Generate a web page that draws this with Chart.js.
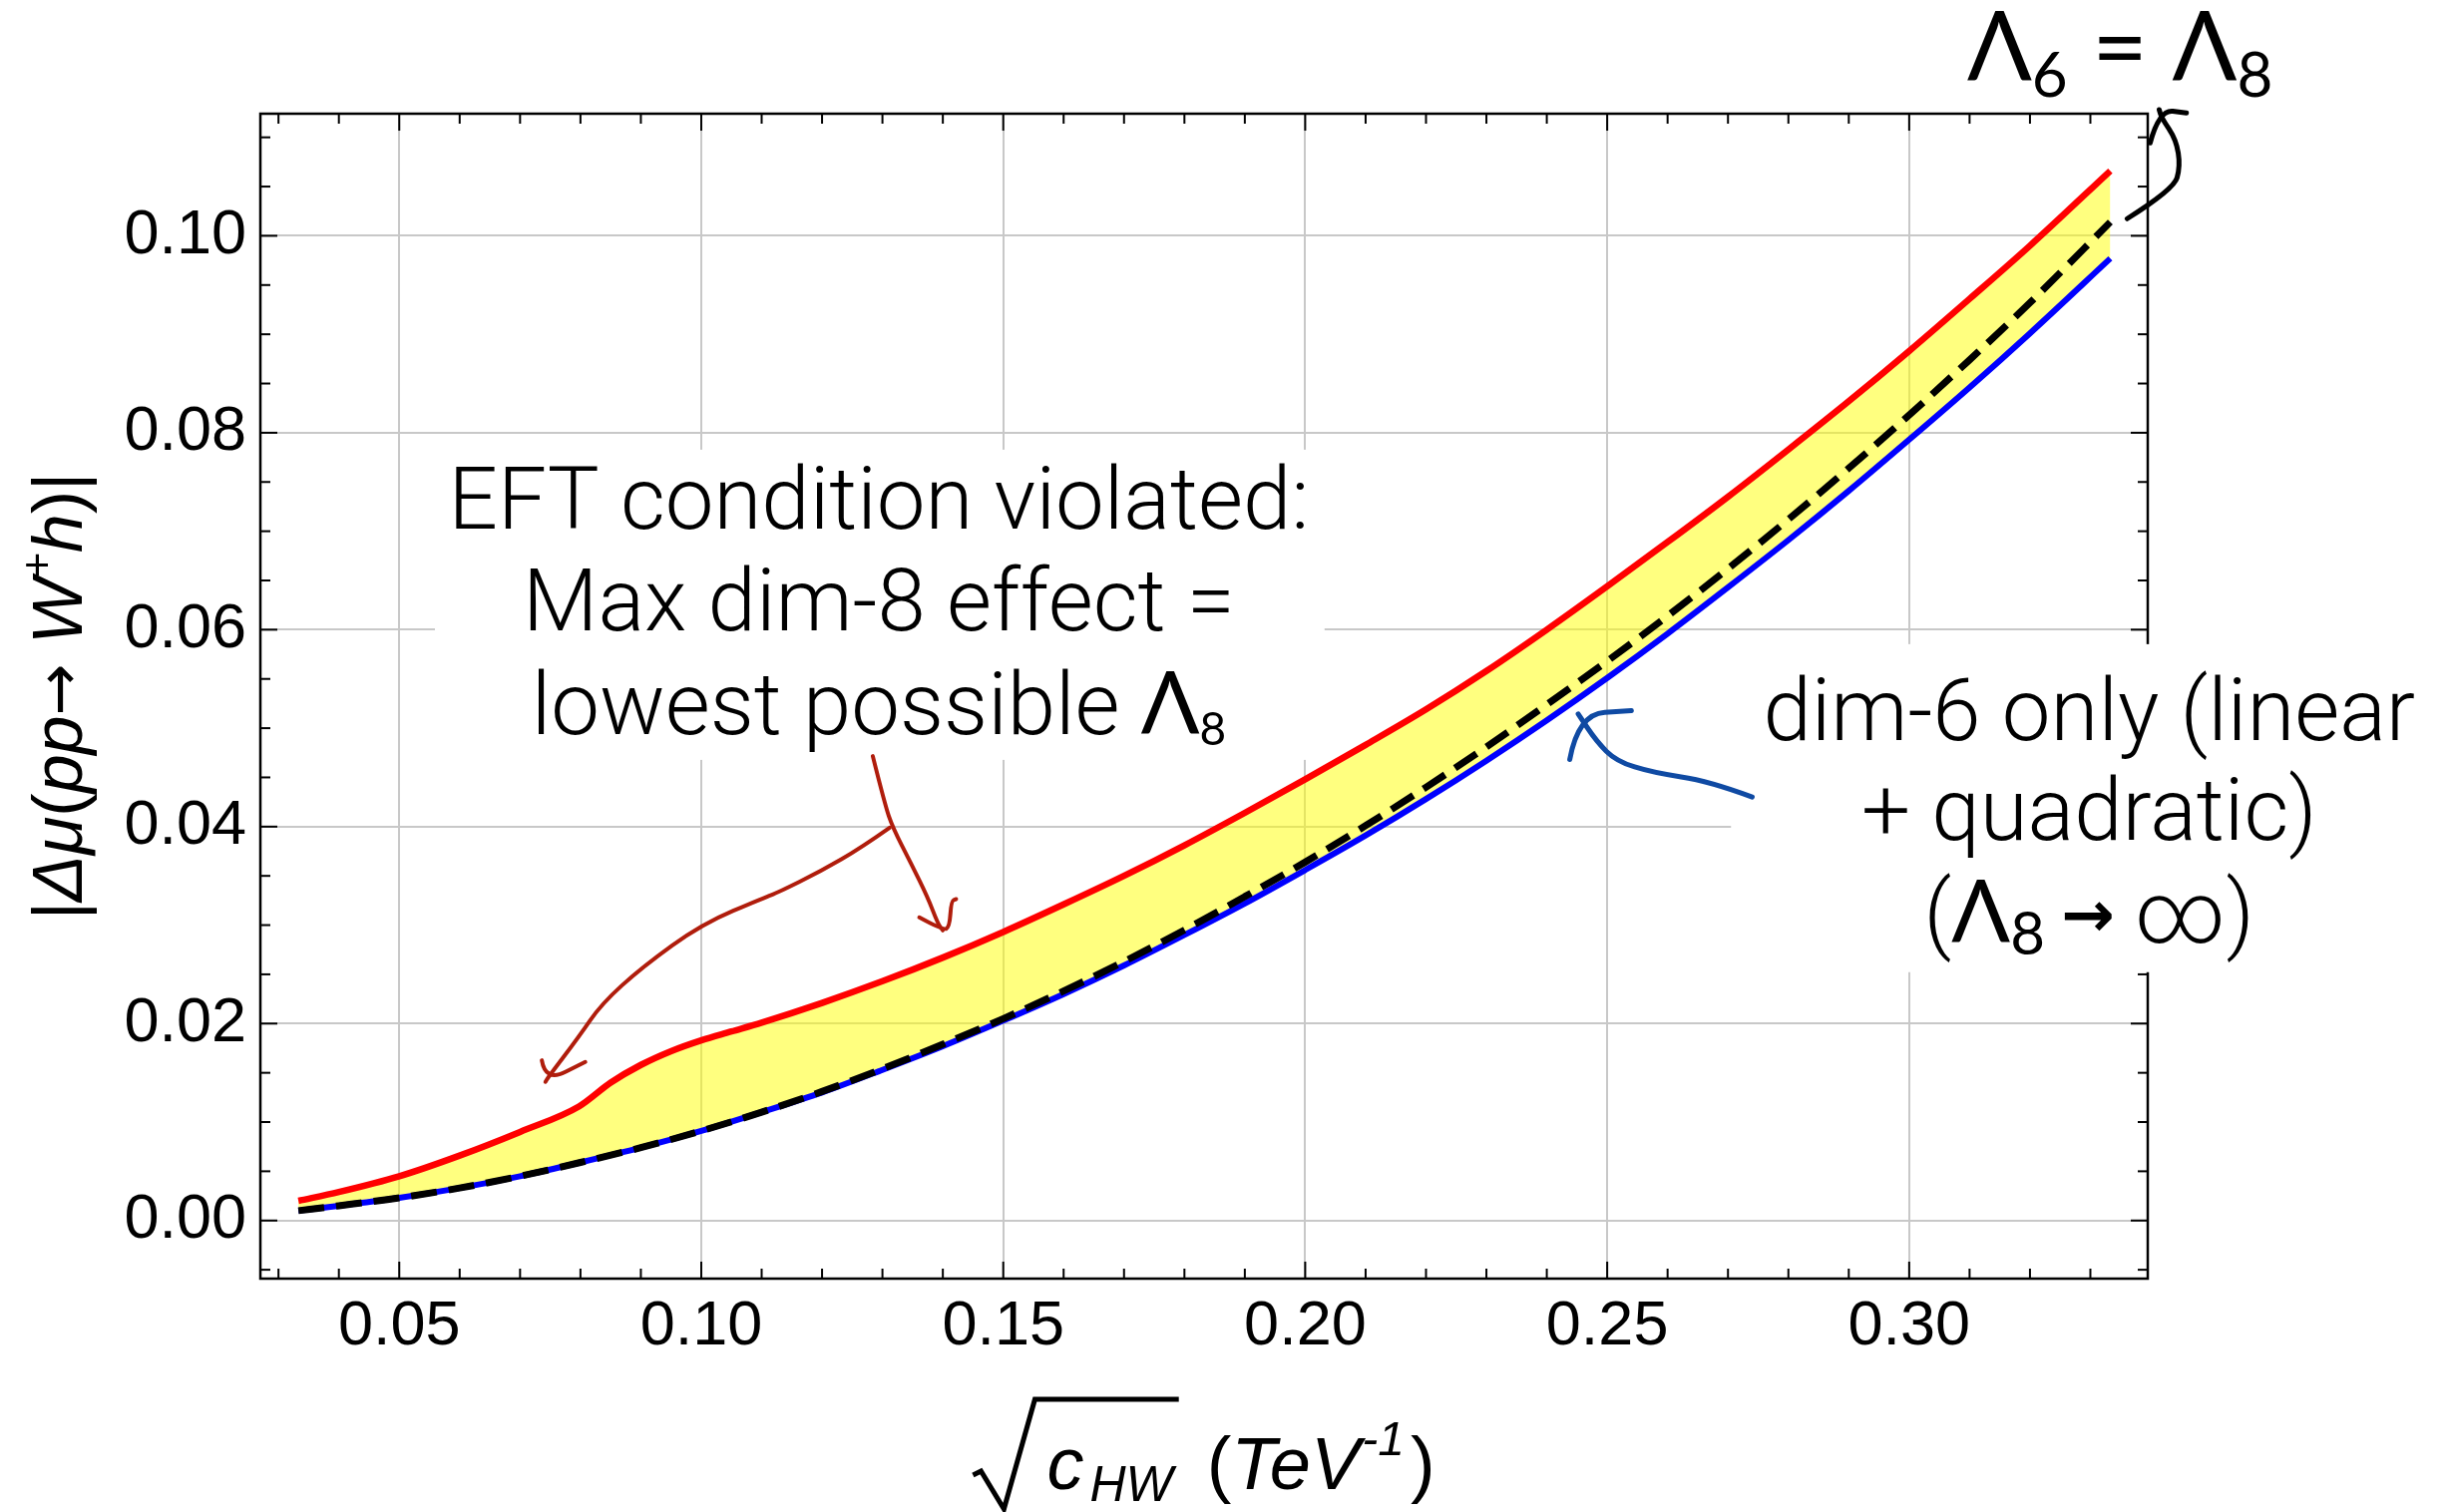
<!DOCTYPE html>
<html>
<head>
<meta charset="utf-8">
<script src="https://cdn.jsdelivr.net/npm/chart.js@4.4.1/dist/chart.umd.min.js"></script>
<style>
  html, body { margin: 0; padding: 0; background: #fff; }
  #wrap { width: 2457px; height: 1516px; }
</style>
</head>
<body>
<div id="wrap"><canvas id="c" width="2457" height="1516"></canvas></div>
<script>
// x: sqrt(c_HW) in TeV^-1, y: |Δμ(pp → W+h)|
const sqrtC = [0.0333, 0.04, 0.05, 0.06, 0.07, 0.08, 0.09, 0.10, 0.11, 0.12, 0.13, 0.14, 0.15,
  0.16, 0.17, 0.18, 0.19, 0.20, 0.21, 0.22, 0.23, 0.24, 0.25, 0.26, 0.27, 0.28, 0.29, 0.30,
  0.31, 0.32, 0.3333];

// Λ6 = Λ8 (dashed)
const lambdaEqual = [0.0010, 0.0015, 0.0023, 0.0033, 0.0045, 0.0059, 0.0074, 0.0091, 0.0110,
  0.0131, 0.0154, 0.0179, 0.0205, 0.0233, 0.0263, 0.0295, 0.0329, 0.0364, 0.0401, 0.0440,
  0.0481, 0.0524, 0.0568, 0.0614, 0.0662, 0.0712, 0.0764, 0.0818, 0.0874, 0.0932, 0.1014];

// dim-6 only, linear + quadratic (Λ8 → ∞)
const dim6Only = [0.0010, 0.0015, 0.0023, 0.0033, 0.0045, 0.0059, 0.0074, 0.0091, 0.0110,
  0.0130, 0.0153, 0.0177, 0.0203, 0.0230, 0.0259, 0.0290, 0.0322, 0.0356, 0.0391, 0.0428,
  0.0467, 0.0508, 0.0551, 0.0596, 0.0643, 0.0691, 0.0741, 0.0793, 0.0846, 0.0901, 0.0977];

// maximal dim-8 effect (lowest allowed Λ8)
const sqrtCUpper = [0.0333, 0.04, 0.05, 0.06, 0.07, 0.0798, 0.085, 0.09, 0.095, 0.10, 0.105,
  0.11, 0.12, 0.13, 0.14, 0.15, 0.16, 0.17, 0.18, 0.19, 0.20, 0.21, 0.22, 0.23, 0.24, 0.25,
  0.26, 0.27, 0.28, 0.29, 0.30, 0.31, 0.32, 0.3333];
const maxDim8 = [0.0020, 0.0029, 0.0045, 0.0066, 0.0090, 0.0116, 0.0140, 0.0158, 0.0172,
  0.0183, 0.0192, 0.0201, 0.0221, 0.0243, 0.0267, 0.0293, 0.0321, 0.0350, 0.0381, 0.0414,
  0.0448, 0.0483, 0.0519, 0.0558, 0.0600, 0.0644, 0.0689, 0.0735, 0.0783, 0.0832, 0.0883,
  0.0936, 0.0990, 0.1066];

const xTickValues = [0.05, 0.10, 0.15, 0.20, 0.25, 0.30];
const yTickValues = [0.00, 0.02, 0.04, 0.06, 0.08, 0.10];

// Callout notes and hand-drawn strokes, placed in axis units
const eftNote = { x: 0.1294, lines: [0.07028, 0.05998, 0.04942], box: [0.0559, 0.2032, 0.04678, 0.07828] };
const dim6Note = { x: 0.3298, lines: [0.04881, 0.03868, 0.02825], box: [0.2705, 0.40, 0.02522, 0.05853] };
const lambdaNote = { x: 0.3349, y: 0.11575 };

const redStrokes = [
  [[0.1284, 0.04716], [0.1304, 0.04226], [0.1317, 0.03990], [0.1348, 0.03618], [0.1375, 0.03281], [0.1392, 0.03011], [0.1400, 0.02947]],
  [[0.1361, 0.03078], [0.1400, 0.02947], [0.1411, 0.02977], [0.1414, 0.03248], [0.1422, 0.03264]],
  [[0.1312, 0.03990], [0.1265, 0.03787], [0.1199, 0.03551], [0.1127, 0.03332], [0.1105, 0.03281], [0.1001, 0.03011],
   [0.0902, 0.02572], [0.0835, 0.02201], [0.0797, 0.01863], [0.0747, 0.01458], [0.0742, 0.01408]],
  [[0.0736, 0.01627], [0.0742, 0.01408], [0.0808, 0.01610]]
];
const blueStrokes = [
  [[0.2740, 0.04301], [0.2669, 0.04463], [0.2576, 0.04547], [0.2515, 0.04665], [0.2482, 0.04868], [0.2452, 0.05144]],
  [[0.2438, 0.04682], [0.2452, 0.05144], [0.2540, 0.05178]]
];
const blackStrokes = [
  [[0.3361, 0.10174], [0.3438, 0.10471], [0.3449, 0.10707], [0.3442, 0.10977], [0.3418, 0.11197], [0.3414, 0.11281]],
  [[0.3399, 0.10944], [0.3414, 0.11281], [0.3459, 0.11248]]
];

const pts = (xs, ys) => xs.map((x, i) => ({ x, y: ys[i] }));

const SANS = 'Liberation Sans';
const NOTE = '300 87px Roboto';
const GREEK = 'Lato';

function drawRuns(ctx, runs, cx, baseY) {
  let total = 0;
  runs.forEach(r => { ctx.font = r.font; r.w = ctx.measureText(r.t).width; total += r.w + (r.gap || 0); });
  let xx = cx - total / 2;
  runs.forEach(r => {
    ctx.font = r.font;
    ctx.fillText(r.t, xx, baseY + (r.dy || 0));
    xx += r.w + (r.gap || 0);
  });
}

function strokeSmooth(ctx, p) {
  ctx.beginPath();
  ctx.moveTo(p[0][0], p[0][1]);
  for (let i = 1; i < p.length - 1; i++) {
    const mx = (p[i][0] + p[i + 1][0]) / 2, my = (p[i][1] + p[i + 1][1]) / 2;
    ctx.quadraticCurveTo(p[i][0], p[i][1], mx, my);
  }
  ctx.lineTo(p[p.length - 1][0], p[p.length - 1][1]);
  ctx.stroke();
}

// Frame with inward major/minor ticks on all four sides
const framePlugin = {
  id: 'frame',
  afterDatasetsDraw(chart) {
    const { ctx, chartArea: a, scales: { x, y } } = chart;
    ctx.save();
    ctx.strokeStyle = '#000';
    ctx.lineWidth = 2;
    const seg = (x1, y1, x2, y2) => { ctx.beginPath(); ctx.moveTo(x1, y1); ctx.lineTo(x2, y2); ctx.stroke(); };
    for (let k = 3; k <= 33; k++) {
      const v = k / 100;
      const major = xTickValues.some(t => Math.abs(t - v) < 1e-9);
      const len = major ? 17 : 10;
      const p = x.getPixelForValue(v);
      seg(p, a.bottom, p, a.bottom - len);
      seg(p, a.top, p, a.top + len);
    }
    for (let k = -1; k <= 22; k++) {
      const v = k * 0.005;
      const major = yTickValues.some(t => Math.abs(t - v) < 1e-9);
      const len = major ? 17 : 10;
      const p = y.getPixelForValue(v);
      seg(a.left, p, a.left + len, p);
      seg(a.right, p, a.right - len, p);
    }
    ctx.lineWidth = 2.5;
    ctx.strokeRect(a.left, a.top, a.right - a.left, a.bottom - a.top);
    ctx.restore();
  }
};

// Callout boxes, notes and arrows
const notesPlugin = {
  id: 'notes',
  afterDatasetsDraw(chart) {
    const { ctx, scales: { x, y } } = chart;
    const X = v => x.getPixelForValue(v), Y = v => y.getPixelForValue(v);
    ctx.save();
    ctx.fillStyle = '#fff';
    [eftNote, dim6Note].forEach(n => {
      const [x0, x1, y0, y1] = n.box;
      ctx.fillRect(X(x0), Y(y1), X(x1) - X(x0), Y(y0) - Y(y1));
    });

    ctx.fillStyle = '#000';
    ctx.textAlign = 'left';
    ctx.textBaseline = 'alphabetic';
    const cx1 = X(eftNote.x);
    drawRuns(ctx, [{ t: 'EFT condition violated:', font: NOTE }], cx1, Y(eftNote.lines[0]));
    drawRuns(ctx, [{ t: 'Max dim-8 effect =', font: NOTE }], cx1, Y(eftNote.lines[1]));
    drawRuns(ctx, [
      { t: 'lowest possible ', font: NOTE },
      { t: 'Λ', font: '400 87px ' + GREEK },
      { t: '8', font: '400 46px ' + GREEK, dy: 11 }
    ], cx1, Y(eftNote.lines[2]));

    const cx2 = X(dim6Note.x);
    drawRuns(ctx, [{ t: 'dim-6 only (linear', font: NOTE }], cx2, Y(dim6Note.lines[0]));
    drawRuns(ctx, [{ t: '+ quadratic)', font: NOTE }], cx2, Y(dim6Note.lines[1]));
    drawRuns(ctx, [
      { t: '(', font: NOTE },
      { t: 'Λ', font: '400 87px ' + GREEK },
      { t: '8', font: '400 60px ' + GREEK, dy: 12, gap: 16 },
      { t: '→', font: '700 64px DejaVu Sans', dy: -6, gap: 20 },
      { t: '∞', font: NOTE },
      { t: ')', font: NOTE }
    ], cx2, Y(dim6Note.lines[2]));

    drawRuns(ctx, [
      { t: 'Λ', font: '400 96px ' + GREEK },
      { t: '6', font: '400 62px ' + GREEK, dy: 16 },
      { t: ' = ', font: '400 96px ' + GREEK },
      { t: 'Λ', font: '400 96px ' + GREEK },
      { t: '8', font: '400 62px ' + GREEK, dy: 16 }
    ], X(lambdaNote.x), Y(lambdaNote.y));

    ctx.lineCap = 'round';
    ctx.lineJoin = 'round';
    const toPx = s => s.map(p => [X(p[0]), Y(p[1])]);
    ctx.strokeStyle = '#b01d0c'; ctx.lineWidth = 4;
    redStrokes.forEach(s => strokeSmooth(ctx, toPx(s)));
    ctx.strokeStyle = '#0f4aa3'; ctx.lineWidth = 5;
    blueStrokes.forEach(s => strokeSmooth(ctx, toPx(s)));
    ctx.strokeStyle = '#000'; ctx.lineWidth = 5;
    blackStrokes.forEach(s => strokeSmooth(ctx, toPx(s)));
    ctx.restore();
  }
};

// Axis titles with sub/superscripts and a radical sign
const titlesPlugin = {
  id: 'titles',
  afterDraw(chart) {
    const { ctx, chartArea: a } = chart;
    ctx.save();
    ctx.fillStyle = '#000';
    ctx.textAlign = 'left';
    ctx.textBaseline = 'alphabetic';

    // y title, rotated
    const fs = 70;
    const n = `400 ${fs}px ${SANS}`, it = `italic 400 ${fs}px ${SANS}`;
    ctx.save();
    ctx.translate(a.left - 179, (a.top + a.bottom) / 2);
    ctx.rotate(-Math.PI / 2);
    drawRuns(ctx, [
      { t: '|', font: n }, { t: 'Δμ', font: it }, { t: '(', font: n }, { t: 'pp', font: it },
      { t: '→', font: '400 62px DejaVu Sans', dy: -2 }, { t: ' ', font: n }, { t: 'W', font: it },
      { t: '+', font: `italic 400 44px ${SANS}`, dy: -30 }, { t: 'h', font: it },
      { t: ')', font: n }, { t: '|', font: n }
    ], 0, 0);
    ctx.restore();

    // x title: √c_HW (TeV^-1)
    const base = a.bottom + 211;
    const xf = 74;
    const xn = `400 ${xf}px ${SANS}`, xi = `italic 400 ${xf}px ${SANS}`;
    const runs = [
      { t: 'c', font: xi, gap: 6 }, { t: 'HW', font: `italic 400 50px ${SANS}`, dy: 12, gap: 34 },
      { t: '(', font: xn }, { t: 'TeV', font: xi, gap: 2 },
      { t: '-1', font: `italic 400 48px ${SANS}`, dy: -34, gap: 6 },
      { t: ')', font: xn }
    ];
    let w = 0;
    runs.forEach(r => { ctx.font = r.font; r.w = ctx.measureText(r.t).width; w += r.w + (r.gap || 0); });
    const radW = 74;
    const left = (a.left + a.right) / 2 - (w + radW) / 2;
    let xx = left + radW;
    const radEnd = xx + runs[0].w + runs[0].gap + runs[1].w + 6;
    ctx.strokeStyle = '#000';
    ctx.lineWidth = 5;
    ctx.lineJoin = 'miter';
    ctx.beginPath();
    ctx.moveTo(left, base - 14);
    ctx.lineTo(left + 8, base - 18);
    ctx.lineTo(left + 31, base + 20);
    ctx.lineTo(left + 62, base - 90);
    ctx.lineTo(radEnd, base - 90);
    ctx.stroke();
    runs.forEach(r => {
      ctx.font = r.font;
      ctx.fillText(r.t, xx, base + (r.dy || 0));
      xx += r.w + (r.gap || 0);
    });
    ctx.restore();
  }
};

const tickFont = { family: SANS, size: 63 };

new Chart(document.getElementById('c'), {
  type: 'line',
  data: {
    datasets: [
      {
        label: 'max dim-8 effect',
        data: pts(sqrtCUpper, maxDim8),
        borderColor: '#ff0000',
        borderWidth: 6.5,
        backgroundColor: 'rgba(255,255,0,0.5)',
        fill: { target: 2 },
        pointRadius: 0,
        cubicInterpolationMode: 'monotone'
      },
      {
        label: 'Λ6 = Λ8',
        data: pts(sqrtC, lambdaEqual),
        borderColor: '#000000',
        borderWidth: 7,
        borderDash: [26, 12],
        fill: false,
        pointRadius: 0,
        cubicInterpolationMode: 'monotone'
      },
      {
        label: 'dim-6 only',
        data: pts(sqrtC, dim6Only),
        borderColor: '#0000ff',
        borderWidth: 6,
        fill: false,
        pointRadius: 0,
        cubicInterpolationMode: 'monotone'
      }
    ]
  },
  options: {
    responsive: false,
    devicePixelRatio: 1,
    animation: false,
    layout: { padding: { left: 0, top: 114, right: 304, bottom: 0 } },
    plugins: {
      legend: { display: false },
      tooltip: { enabled: false },
      filler: { drawTime: 'beforeDatasetsDraw' }
    },
    scales: {
      x: {
        type: 'linear',
        min: 0.0270,
        max: 0.3395,
        afterBuildTicks: s => { s.ticks = xTickValues.map(v => ({ value: v })); },
        afterFit: s => { s.height = 234; },
        grid: { color: '#c8c8c8', lineWidth: 2, drawTicks: false },
        border: { display: false },
        ticks: { font: tickFont, color: '#000', padding: 11, maxRotation: 0, autoSkip: false,
          callback: v => v.toFixed(2) }
      },
      y: {
        type: 'linear',
        min: -0.0059,
        max: 0.1124,
        afterBuildTicks: s => { s.ticks = yTickValues.map(v => ({ value: v })); },
        afterFit: s => { s.width = 261; },
        grid: { color: '#c8c8c8', lineWidth: 2, drawTicks: false },
        border: { display: false },
        ticks: { font: tickFont, color: '#000', padding: 14, autoSkip: false,
          callback: v => v.toFixed(2) }
      }
    }
  },
  plugins: [framePlugin, notesPlugin, titlesPlugin]
});
</script>
</body>
</html>
